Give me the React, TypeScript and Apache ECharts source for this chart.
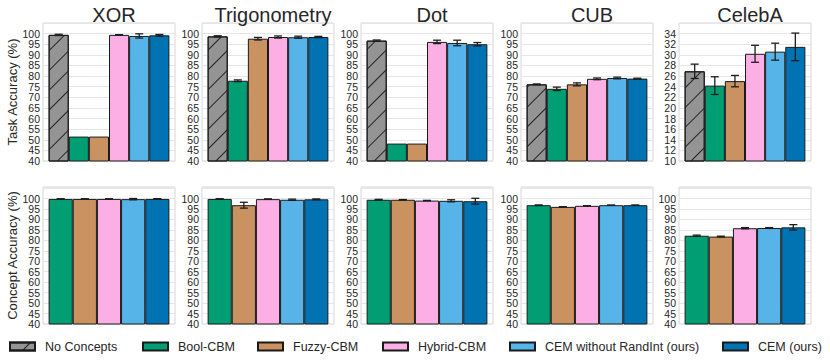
import React, { useEffect, useRef } from "react";
import * as echarts from "echarts";

const methods = ["No Concepts", "Bool-CBM", "Fuzzy-CBM", "Hybrid-CBM", "CEM without RandInt (ours)", "CEM (ours)"];
const methodColors = ["#949494", "#029E73", "#CA9161", "#FBAFE4", "#56B4E9", "#0173B2"];
const datasets = ["XOR", "Trigonometry", "Dot", "CUB", "CelebA"];

// Task accuracy (all 6 methods)
const taskXOR = [99.4, 51.5, 51.5, 99.4, 98.9, 99.2];
const taskXORErr = [0.3, 0, 0, 0.1, 1.0, 0.4];
const taskTrig = [98.7, 77.8, 97.6, 98.4, 98.3, 98.4];
const taskTrigErr = [0.3, 0.4, 0.6, 0.5, 0.5, 0.3];
const taskDot = [96.7, 48.2, 48.2, 96.1, 95.6, 95.0];
const taskDotErr = [0.3, 0, 0, 0.8, 1.3, 0.8];
const taskCUB = [76.1, 74.0, 76.1, 78.7, 79.1, 78.8];
const taskCUBErr = [0.2, 0.8, 0.7, 0.4, 0.4, 0.2];
const taskCelebA = [26.9, 24.2, 25.05, 30.2, 30.6, 31.5];
const taskCelebAErr = [1.35, 1.67, 1.07, 1.6, 1.6, 2.6];

// Concept accuracy (methods 1..5, no "No Concepts")
const conceptXOR = [99.8, 99.8, 99.8, 99.7, 99.8];
const conceptXORErr = [0.1, 0.05, 0.05, 0.3, 0.15];
const conceptTrig = [99.8, 96.8, 99.7, 99.4, 99.6];
const conceptTrigErr = [0.1, 1.4, 0.1, 0.3, 0.2];
const conceptDot = [99.4, 99.4, 99.0, 98.9, 98.7];
const conceptDotErr = [0.2, 0.1, 0.1, 0.5, 1.4];
const conceptCUB = [96.8, 96.0, 96.5, 96.8, 96.8];
const conceptCUBErr = [0.1, 0.1, 0.1, 0.05, 0.05];
const conceptCelebA = [82.2, 81.8, 85.8, 85.9, 86.2];
const conceptCelebAErr = [0.3, 0.2, 0.3, 0.2, 1.3];

const taskVals = [taskXOR, taskTrig, taskDot, taskCUB, taskCelebA];
const taskErrs = [taskXORErr, taskTrigErr, taskDotErr, taskCUBErr, taskCelebAErr];
const conceptVals = [conceptXOR, conceptTrig, conceptDot, conceptCUB, conceptCelebA];
const conceptErrs = [conceptXORErr, conceptTrigErr, conceptDotErr, conceptCUBErr, conceptCelebAErr];

// Axis ranges: [min, max, interval, maxLabel]
const taskAxis = [
  [40, 105, 5, 100],
  [40, 105, 5, 100],
  [40, 105, 5, 100],
  [40, 105, 5, 100],
  [10, 36, 2, 34],
];
const conceptAxis = [40, 105.5, 5, 100];

const FONT = "'Liberation Sans', Arial, Helvetica, sans-serif";
const TEXT = "#262626";
const GAP = 0.085;
const panelLeft = [43, 202, 361, 521, 679];
const panelWidth = 132;
const rows = [
  { top: 23, height: 138 },
  { top: 187, height: 137 },
];
const legendLeft = [9, 142, 257, 382, 509, 722];

function buildOption() {
  const grid: any[] = [];
  const xAxis: any[] = [];
  const yAxis: any[] = [];
  const yAxisMin: any[] = [];
  const series: any[] = [];
  const title: any[] = [];

  datasets.forEach((d, c) => {
    title.push({
      text: d,
      left: panelLeft[c] + panelWidth / 2,
      top: 0,
      textAlign: "center",
      textStyle: { fontSize: 20, fontWeight: "normal", color: TEXT, fontFamily: FONT },
    });
  });

  const labelBase = { color: TEXT, fontFamily: FONT, fontSize: 10.5, margin: 3 };

  for (let r = 0; r < 2; r++) {
    for (let c = 0; c < 5; c++) {
      const g = r * 5 + c;
      grid.push({
        left: panelLeft[c],
        top: rows[r].top,
        width: panelWidth,
        height: rows[r].height,
        show: true,
        borderColor: "#d6d6d6",
        borderWidth: 1,
        backgroundColor: "#ffffff",
      });
      xAxis.push({
        gridIndex: g,
        type: "category",
        data: ["x"],
        axisLine: { show: false },
        axisTick: { show: false },
        axisLabel: { show: false },
        splitLine: { show: false },
      });
      const ax = r === 0 ? taskAxis[c] : conceptAxis;
      const minV = ax[0];
      const maxLabel = ax[3];
      yAxis.push({
        gridIndex: g,
        type: "value",
        position: "left",
        min: ax[0],
        max: ax[1],
        interval: ax[2],
        name: c === 0 ? (r === 0 ? "Task Accuracy (%)" : "Concept Accuracy (%)") : "",
        nameLocation: "middle",
        nameGap: 22,
        nameTextStyle: { fontSize: 13, color: TEXT, fontFamily: FONT },
        axisLine: { show: false },
        axisTick: { show: false },
        axisLabel: {
          ...labelBase,
          showMinLabel: false,
          formatter: (v: number) => (v > maxLabel ? "" : String(v)),
        },
        splitLine: { show: true, lineStyle: { color: "#e6e6e6", width: 1 } },
      });
      // companion axis that only carries the bottom tick label
      yAxisMin.push({
        gridIndex: g,
        type: "value",
        position: "left",
        offset: 0,
        min: ax[0],
        max: ax[1],
        interval: ax[2],
        axisLine: { show: false },
        axisTick: { show: false },
        splitLine: { show: false },
        axisLabel: {
          ...labelBase,
          showMinLabel: true,
          formatter: (v: number) => (v === minV ? String(v) : ""),
        },
      });

      const vals = r === 0 ? taskVals[c] : conceptVals[c];
      const errs = r === 0 ? taskErrs[c] : conceptErrs[c];
      const offset = r === 0 ? 0 : 1;
      const n = vals.length;
      vals.forEach((v, k) => {
        const mi = k + offset;
        const s: any = {
          name: methods[mi],
          type: "bar",
          xAxisIndex: g,
          yAxisIndex: g,
          data: [v],
          barGap: "0%",
          barCategoryGap: GAP * 100 + "%",
          itemStyle: {
            color: methodColors[mi],
            borderColor: "#1a1a1a",
            borderWidth: 1,
          },
          emphasis: { disabled: true },
        };
        if (mi === 0) {
          s.itemStyle.decal = {
            symbol: "rect",
            symbolSize: 1,
            color: "#222222",
            dashArrayX: [1, 0],
            dashArrayY: [1, 13],
            rotation: -Math.PI / 4,
          };
        }
        series.push(s);
      });
      series.push({
        type: "custom",
        name: "err" + g,
        xAxisIndex: g,
        yAxisIndex: g,
        silent: true,
        z: 5,
        data: vals.map((v, k) => [0, v, errs[k], k, n]),
        encode: { x: 0, y: 1 },
        renderItem: (params: any, api: any) => {
          const mean = api.value(1);
          const err = api.value(2);
          const k = api.value(3);
          const nn = api.value(4);
          if (!(err > 0)) return { type: "group", children: [] };
          const band = api.size([1, 0])[0];
          const total = band * (1 - GAP);
          const bw = total / nn;
          const c0 = api.coord([0, mean]);
          const x = c0[0] - total / 2 + bw * (k + 0.5);
          const yT = api.coord([0, mean + err])[1];
          const yB = api.coord([0, mean - err])[1];
          const cap = 4;
          const st = { stroke: "#1e1e1e", lineWidth: 1.3 };
          return {
            type: "group",
            children: [
              { type: "line", shape: { x1: x, y1: yT, x2: x, y2: yB }, style: st },
              { type: "line", shape: { x1: x - cap, y1: yT, x2: x + cap, y2: yT }, style: st },
              { type: "line", shape: { x1: x - cap, y1: yB, x2: x + cap, y2: yB }, style: st },
            ],
          };
        },
      });
    }
  }

  const legend = methods.map((m, i) => ({
    data: [{ name: m, icon: "rect" }],
    left: legendLeft[i],
    top: 340,
    padding: 0,
    orient: "horizontal",
    itemWidth: 25,
    itemHeight: 8,
    selectedMode: false,
    textStyle: { fontSize: 12.5, color: TEXT, fontFamily: FONT, padding: [0, 0, 0, 5] },
  }));

  return {
    animation: false,
    backgroundColor: "#ffffff",
    textStyle: { fontFamily: FONT },
    title,
    grid,
    xAxis,
    yAxis: [...yAxis, ...yAxisMin],
    series,
    legend,
  };
}

export default function App() {
  const ref = useRef<HTMLDivElement>(null);
  useEffect(() => {
    if (!ref.current) return;
    const chart = echarts.init(ref.current, undefined, { renderer: "svg" });
    chart.setOption(buildOption() as any);
    return () => chart.dispose();
  }, []);
  return (
    <div
      ref={ref}
      style={{ position: "absolute", left: 0, top: 0, width: 830, height: 363, background: "#fff" }}
    />
  );
}
